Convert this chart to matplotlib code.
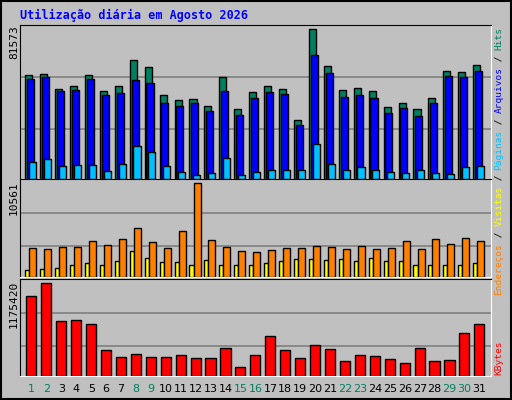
import matplotlib.pyplot as plt
import numpy as np

# daily values (Webalizer daily chart)
days = np.arange(1, 32)
hits = [56760, 57310, 49000, 50630, 56760, 47890, 50630, 65030, 61150, 45670, 42910, 43460, 39590,
        55660, 37930, 47340, 50630, 49000, 32390, 81570, 61700, 48440, 49550, 47890, 39030, 41250,
        37930, 44010, 58970, 58420, 62260]
files = [54540, 55660, 47890, 48440, 54540, 45670, 46780, 53990, 52330, 41250, 39590, 41250, 36820,
         47890, 35080, 44010, 47340, 46230, 29620, 67800, 57860, 44560, 45670, 44010, 36270, 38480,
         34530, 41250, 56210, 55660, 58970]
pages = [9040, 10710, 6830, 7380, 7380, 4610, 7940, 17900, 14580, 6830, 4060, 2400, 3510, 11260,
         2400, 4060, 5170, 5170, 5170, 19010, 7940, 5170, 6280, 5170, 4060, 3510, 5170, 3510, 2950,
         6280, 6830]
visits = [840, 950, 1070, 1300, 1530, 1300, 1750, 2900, 2090, 1640, 1640, 1410, 1870, 1410, 1300,
          1300, 1530, 1750, 1980, 1980, 1870, 1980, 1750, 2090, 1750, 1750, 1410, 1410, 1410, 1300,
          1530]
sites = [3240, 3130, 3350, 3350, 4040, 3580, 4270, 5530, 3920, 3240, 5190, 10560, 4150, 3350, 2900,
         2780, 3010, 3240, 3240, 3470, 3350, 3130, 3470, 3130, 3240, 4040, 3130, 4270, 3700, 4380,
         4040]
kbytes = [1020960, 1175420, 699250, 712120, 660640, 326000, 235900, 274520, 235900, 235900,
          261650, 222980, 222980, 351740, 120120, 261650, 506180, 326000, 222980, 390350, 339130,
          184450, 261650, 248780, 210080, 158650, 351740, 184450, 197310, 549080, 660640]
weekend = [1, 2, 8, 9, 15, 16, 22, 23, 29, 30]

W, H = 512, 400
bg = '#C0C0C0'
mono = 'DejaVu Sans Mono'
fig = plt.figure(figsize=(W / 100, H / 100), dpi=100, facecolor=bg)
fig.patches.append(plt.Rectangle((0.002, 0.002), 0.996, 0.996, transform=fig.transFigure,
                                 fill=False, edgecolor='black', linewidth=1.5))


def px_axes(x0, y0, x1, y1):
    ax = fig.add_axes([x0 / W, 1 - y1 / H, (x1 - x0) / W, (y1 - y0) / H])
    ax.set_facecolor(bg)
    for s in ax.spines.values():
        s.set_color('black')
    ax.spines['right'].set_color('white')
    ax.spines['bottom'].set_color('white')
    ax.set_xlim(0.13, 31.67)
    ax.set_xticks([])
    ax.set_yticks([])
    return ax


def grid(ax, vals):
    for v in vals:
        ax.axhline(v, color='#808080', linewidth=1.2, zorder=0)


ek = dict(edgecolor='black', linewidth=1, align='edge', zorder=2)

# painel 1: hits / arquivos / paginas
ax1 = px_axes(20, 25, 491, 179)
ax1.set_ylim(0, 84000)
grid(ax1, [27320, 55560])
ax1.bar(days - 0.52, hits, 0.47, color='#008060', **ek)
ax1.bar(days - 0.40, files, 0.47, color='#0000FF', **ek)
ax1.bar(days - 0.27, pages, 0.47, color='#00C0FF', **ek)

# painel 2: visitas / enderecos
ax2 = px_axes(20, 179, 491, 277)
ax2.set_ylim(0, 11058)
grid(ax2, [3470, 7245])
ax2.bar(days - 0.52, visits, 0.27, color='#FFFF00', **ek)
ax2.bar(days - 0.25, sites, 0.47, color='#FF8000', **ek)

# painel 3: kbytes
ax3 = px_axes(20, 279, 491, 376)
ax3.set_ylim(0, 1231000)
grid(ax3, [381000, 802000])
ax3.bar(days - 0.45, kbytes, 0.68, color='#FF0000', **ek)

for d in days:
    ax3.text(d - 0.1, -0.08, str(d), transform=ax3.get_xaxis_transform(), ha='center', va='top',
             fontsize=8, color='#008060' if d in weekend else 'black')

fig.text(20 / W, 1 - 15 / H, 'Utilização diária em Agosto 2026', color='#0000FF',
         family=mono, fontweight='bold', fontsize=8.5, va='center')

for y, t in [(25, '81573'), (181, '10561'), (281, '1175420')]:
    fig.text(14 / W, 1 - y / H, t, rotation=90, ha='center', va='top', fontsize=8,
             family=mono)

# legenda vertical a direita
segs = [('Hits', '#008060'), (' / ', 'black'), ('Arquivos', '#0000FF'), (' / ', 'black'),
        ('Páginas', '#00C0FF'), (' / ', 'black'), ('Visitas', '#FFFF00'), (' / ', 'black'),
        ('Endereços', '#FF8000')]
fs = 6.8
cw = 0.602 * fs * 100 / 72
y = 27
for t, c in segs:
    fig.text(499 / W, 1 - y / H, t, rotation=90, ha='center', va='top', fontsize=fs,
             family=mono, color=c)
    y += len(t) * cw
fig.text(499 / W, 1 - 375 / H, 'KBytes', rotation=90, ha='center', va='bottom', fontsize=fs,
         family=mono, color='#FF0000')

plt.savefig('out.png', dpi=100, facecolor=bg)
